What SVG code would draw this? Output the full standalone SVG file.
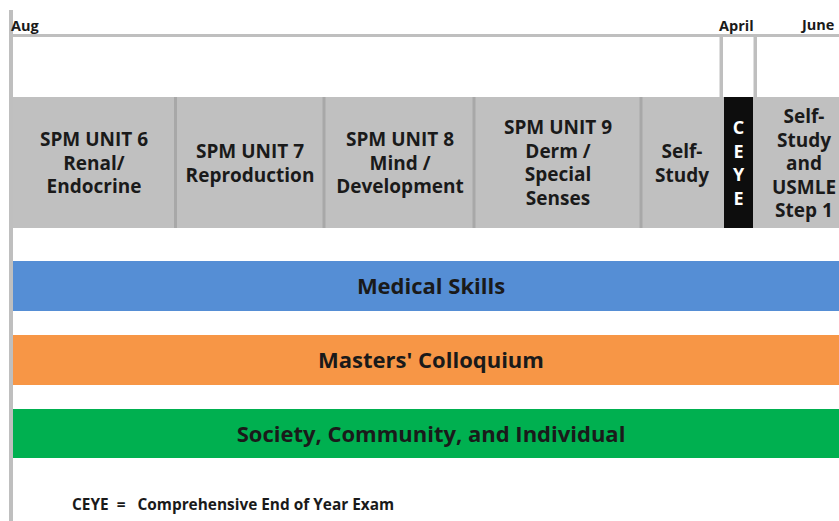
<svg xmlns="http://www.w3.org/2000/svg" width="839" height="521" viewBox="0 0 839 521">
<style>
.t{font-family:"Open Sans","Liberation Sans",sans-serif;font-weight:bold;fill:#1a1a1a;text-anchor:middle}
.u{font-size:19px}
.b{font-size:22px}
.m{font-size:14.5px;text-anchor:start}
.l{font-size:15.4px;text-anchor:start}
.c{font-family:"Open Sans","Liberation Sans",sans-serif;font-weight:bold;fill:#ffffff;text-anchor:middle;font-size:18px}
.box{fill:#c0c0c0}
.div{fill:#a8a8a8}
.ln{fill:#bfbfbf}
</style>
<rect width="839" height="521" fill="#ffffff"/>
<g id="timeline">
<rect class="ln" x="9" y="10" width="4" height="511"/>
<rect class="ln" x="12" y="34" width="827" height="3"/>
<rect class="ln" x="719.5" y="35" width="3.5" height="63"/>
<rect class="ln" x="753.5" y="35" width="3.5" height="63"/>
<text class="t m" x="11" y="31">Aug</text>
<text class="t m" x="719" y="31">April</text>
<text class="t m" x="802" y="30">June</text>
</g>
<g id="units">
<rect class="box" x="13" y="97" width="826" height="131"/>
<rect class="div" x="174" y="97" width="3" height="131"/>
<rect class="div" x="322.5" y="97" width="3" height="131"/>
<rect class="div" x="472.5" y="97" width="3" height="131"/>
<rect class="div" x="639.5" y="97" width="3" height="131"/>
<rect x="724" y="97" width="29" height="131" fill="#0d0d0d"/>
</g>
<g id="unit6"><text class="t u" x="94" y="146">SPM UNIT 6</text><text class="t u" x="94" y="169.5">Renal/</text><text class="t u" x="94" y="193">Endocrine</text></g>
<g id="unit7"><text class="t u" x="250" y="158">SPM UNIT 7</text><text class="t u" x="250" y="181.5">Reproduction</text></g>
<g id="unit8"><text class="t u" x="400" y="146">SPM UNIT 8</text><text class="t u" x="400" y="169.5">Mind /</text><text class="t u" x="400" y="193">Development</text></g>
<g id="unit9"><text class="t u" x="558" y="134">SPM UNIT 9</text><text class="t u" x="558" y="157.5">Derm /</text><text class="t u" x="558" y="181">Special</text><text class="t u" x="558" y="204.5">Senses</text></g>
<g id="selfstudy"><text class="t u" x="682" y="158">Self-</text><text class="t u" x="682" y="181.5">Study</text></g>
<g id="ceye"><text class="c" x="738.5" y="134">C</text><text class="c" x="738.5" y="157.5">E</text><text class="c" x="738.5" y="181">Y</text><text class="c" x="738.5" y="204.5">E</text></g>
<g id="usmle"><text class="t u" x="804" y="123">Self-</text><text class="t u" x="804" y="146.5">Study</text><text class="t u" x="804" y="170">and</text><text class="t u" x="804" y="193.5">USMLE</text><text class="t u" x="804" y="217">Step 1</text></g>
<g id="medical"><rect x="13" y="261" width="826" height="50" fill="#558ed5"/><text class="t b" x="431" y="294">Medical Skills</text></g>
<g id="masters"><rect x="13" y="335" width="826" height="50" fill="#f79646"/><text class="t b" x="431" y="368">Masters' Colloquium</text></g>
<g id="society"><rect x="13" y="409" width="826" height="49" fill="#00b050"/><text class="t b" x="431" y="442">Society, Community, and Individual</text></g>
<g id="legend"><text class="t l" x="72" y="510" xml:space="preserve">CEYE  =   Comprehensive End of Year Exam</text></g>
<g id="connectors"></g>
</svg>
